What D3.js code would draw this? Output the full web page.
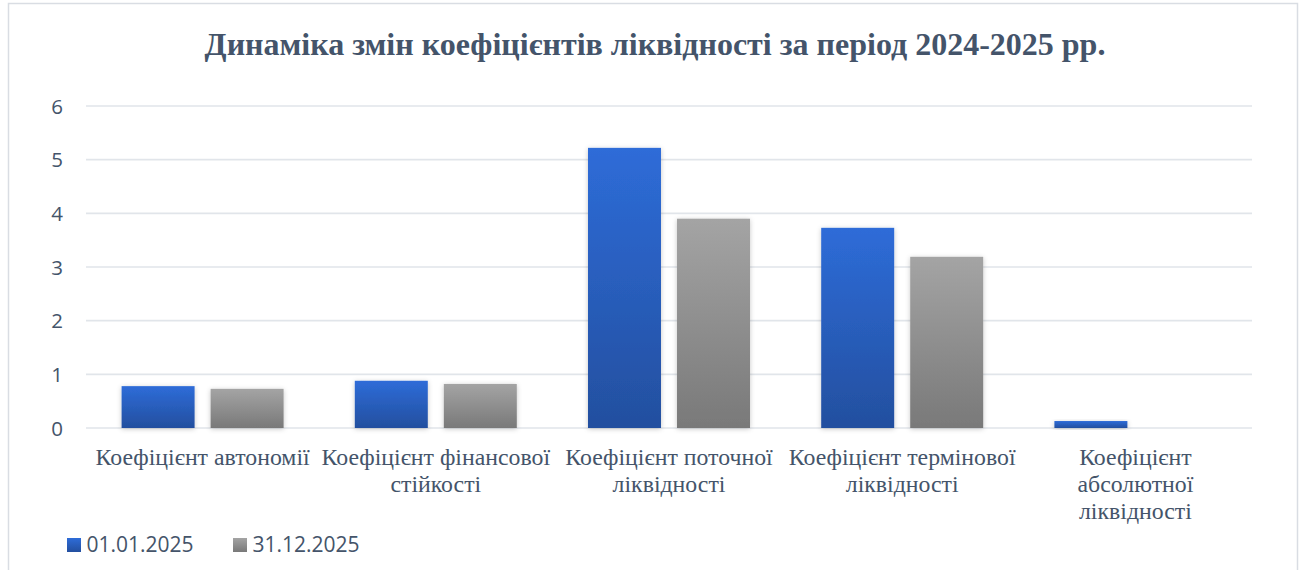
<!DOCTYPE html>
<html><head><meta charset="utf-8">
<script src="https://cdn.jsdelivr.net/npm/d3@7"></script>
<style>
html,body{margin:0;padding:0;background:#fff;}
svg{display:block;}
</style></head>
<body>
<svg id="chart" width="1305" height="570"></svg>
<script>
const title = "Динаміка змін коефіцієнтів ліквідності за період 2024-2025 рр.";
const categories = [
  ["Коефіцієнт автономії"],
  ["Коефіцієнт фінансової", "стійкості"],
  ["Коефіцієнт поточної", "ліквідності"],
  ["Коефіцієнт термінової", "ліквідності"],
  ["Коефіцієнт", "абсолютної", "ліквідності"]
];
const seriesNames = ["01.01.2025", "31.12.2025"];
const values2025start = [0.78, 0.88, 5.22, 3.73, 0.13];
const values2025end = [0.73, 0.82, 3.90, 3.19, 0.0];
const yTicks = [0, 1, 2, 3, 4, 5, 6];

const svg = d3.select("#chart");
const textColor = "#44546a";

// chart border
svg.append("rect").attr("x", 8.5).attr("y", 3.5).attr("width", 1289).attr("height", 580)
  .attr("fill", "#fff").attr("stroke", "#d9dde3").attr("stroke-width", 1.5);

const defs = svg.append("defs");
function grad(id, top, bottom) {
  const g = defs.append("linearGradient").attr("id", id).attr("x1", 0).attr("y1", 0).attr("x2", 0).attr("y2", 1);
  g.append("stop").attr("offset", "0%").attr("stop-color", top);
  g.append("stop").attr("offset", "100%").attr("stop-color", bottom);
}
grad("gBlue", "#2e6cd8", "#234f9f");
grad("gGray", "#a4a4a4", "#797979");
const f = defs.append("filter").attr("id", "sh").attr("x", "-20%").attr("y", "-20%").attr("width", "140%").attr("height", "140%");
f.append("feDropShadow").attr("dx", 0).attr("dy", 1).attr("stdDeviation", 2.5).attr("flood-color", "#000").attr("flood-opacity", 0.22);

const x0 = d3.scaleBand().domain(d3.range(categories.length)).range([86, 1252]).paddingInner(0).paddingOuter(0);
const x1 = d3.scaleBand().domain([0, 1]).range([35.6, x0.bandwidth() - 35.6]).paddingInner(0.18).paddingOuter(0);
const y = d3.scaleLinear().domain([0, 6]).range([428, 106]);

// gridlines
svg.append("g").selectAll("line").data(yTicks).join("line")
  .attr("x1", 86).attr("x2", 1252)
  .attr("y1", d => y(d)).attr("y2", d => y(d))
  .attr("stroke", "#e1e5ea").attr("stroke-width", 1.6);

// y axis labels
const yAxis = d3.axisLeft(y).tickValues(yTicks).tickSize(0).tickPadding(0).tickFormat(d3.format("d"));
const ya = svg.append("g").attr("transform", "translate(63,0)").call(yAxis);
ya.select(".domain").remove();
ya.selectAll("text").attr("font-family", "'Open Sans', sans-serif").attr("font-size", 20.5).attr("fill", textColor).attr("dy", "0.35em");

// bars
const series = [values2025start, values2025end];
const fills = ["url(#gBlue)", "url(#gGray)"];
series.forEach((vals, si) => {
  svg.append("g").selectAll("rect").data(vals).join("rect")
    .attr("x", (d, i) => x0(i) + x1(si))
    .attr("width", x1.bandwidth())
    .attr("y", d => y(d))
    .attr("height", d => y(0) - y(d))
    .attr("fill", fills[si])
    .attr("filter", d => d > 0 ? "url(#sh)" : null);
});

// category labels
const cl = svg.append("g");
categories.forEach((lines, i) => {
  const cx = x0(i) + x0.bandwidth() / 2;
  const t = cl.append("text")
    .attr("text-anchor", "middle")
    .attr("font-family", "'Liberation Serif', 'Times New Roman', serif")
    .attr("font-size", 23.8)
    .attr("fill", textColor);
  lines.forEach((ln, k) => {
    t.append("tspan").attr("x", cx).attr("y", 465 + k * 27).text(ln);
  });
});

// title
svg.append("text").attr("x", 655).attr("y", 55).attr("text-anchor", "middle")
  .attr("font-family", "'Liberation Serif', 'Times New Roman', serif")
  .attr("font-weight", "bold").attr("font-size", 32).attr("fill", textColor)
  .text(title);

// legend
const legX = [67, 233];
const lg = svg.append("g");
seriesNames.forEach((name, i) => {
  lg.append("rect").attr("x", legX[i]).attr("y", 538).attr("width", 14).attr("height", 14).attr("fill", fills[i]);
  lg.append("text").attr("x", legX[i] + 19.5).attr("y", 545).attr("dy", "0.35em")
    .attr("font-family", "'Open Sans', sans-serif").attr("font-size", 21).attr("fill", textColor)
    .text(name);
});
</script>
</body></html>
